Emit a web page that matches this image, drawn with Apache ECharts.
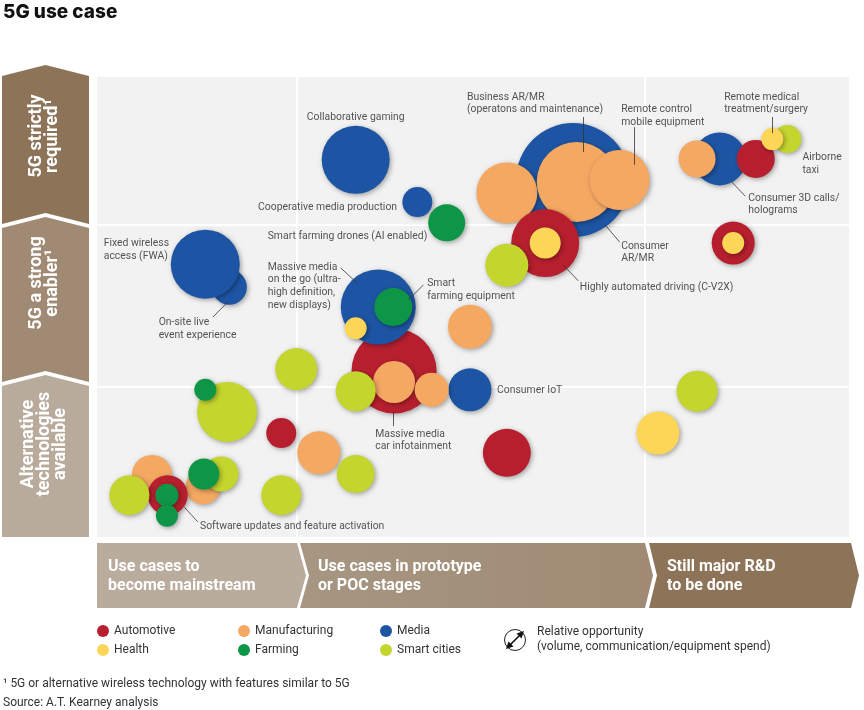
<!DOCTYPE html>
<html><head><meta charset="utf-8">
<script src="https://cdn.jsdelivr.net/npm/echarts@6/dist/echarts.min.js"></script>
<style>html,body{margin:0;padding:0;background:#fff}#c{width:864px;height:710px}</style>
</head><body><div id="c"></div>
<script>
// Axis: x = development stage (0-100), y = 5G dependency (0-100)
const xDividers = [26.6, 72.9];
const yDividers = [32.6, 67.8];
const rowLabels = ['5G strictly\nrequired¹', '5G a strong\nenabler¹', 'Alternative\ntechnologies\navailable'];
const stageLabels = ['Use cases to\nbecome mainstream', 'Use cases in prototype\nor POC stages', 'Still major R&D\nto be done'];
const categories = ['Automotive', 'Manufacturing', 'Media', 'Health', 'Farming', 'Smart cities'];
const catColors = ['#B71F2E', '#F5A862', '#1D55A4', '#FDD657', '#0E9647', '#C4D62E'];

// [stage, dependency, relative opportunity]
const automotiveBack = [[39.5, 36.1, 85]];
const media = [[63.3, 77.6, 114], [34.4, 82.0, 68], [42.6, 72.8, 30], [17.6, 54.3, 35], [14.4, 59.3, 69], [37.4, 50.0, 75], [82.8, 82.2, 53], [49.6, 32.0, 43]];
const manufacturing = [[54.5, 74.8, 61], [63.8, 77.2, 80], [69.5, 77.6, 60], [79.8, 82.2, 37], [49.6, 45.7, 44], [39.5, 33.7, 42], [44.5, 32.0, 34], [29.5, 18.3, 43], [7.3, 13.5, 40], [14.1, 10.9, 35]];
const automotive = [[59.6, 63.9, 68], [87.6, 82.2, 38], [84.6, 63.9, 43], [24.5, 22.6, 30], [54.5, 18.3, 48], [9.4, 9.1, 40]];
const smartCities = [[54.5, 59.1, 43], [91.8, 86.5, 28], [34.4, 31.7, 40], [26.5, 36.5, 42], [17.3, 27.2, 60], [34.4, 13.7, 38], [24.5, 9.1, 40], [4.3, 9.1, 40], [16.5, 13.7, 35], [79.8, 31.7, 41]];
const farming = [[46.5, 68.3, 37], [39.4, 50.0, 38], [14.4, 32.0, 22], [14.2, 13.7, 31], [9.3, 9.1, 23], [9.3, 4.6, 22]];
const health = [[34.4, 45.4, 22], [59.6, 63.9, 31], [89.8, 86.5, 22], [84.6, 63.9, 22], [74.6, 22.6, 43]];

// annotation texts: [text, x, y, align]
const annotations = [
  ['Collaborative gaming', 27.9, 92.6, 'left'],
  ['Cooperative media production', 39.9, 73.0, 'right'],
  ['Smart farming drones (AI enabled)', 22.7, 66.7, 'left'],
  ['Fixed wireless\naccess (FWA)', 0.9, 65.2, 'left'],
  ['On-site live\nevent experience', 8.2, 48.0, 'left'],
  ['Massive media\non the go (ultra-\nhigh definition,\nnew displays)', 22.7, 60.0, 'left'],
  ['Smart\nfarming equipment', 43.9, 56.5, 'left'],
  ['Business AR/MR\n(operatons and maintenance)', 49.2, 97.0, 'left'],
  ['Remote control\nmobile equipment', 69.7, 94.3, 'left'],
  ['Remote medical\ntreatment/surgery', 83.4, 97.0, 'left'],
  ['Airborne\ntaxi', 93.8, 83.9, 'left'],
  ['Consumer 3D calls/\nholograms', 86.6, 75.0, 'left'],
  ['Consumer\nAR/MR', 69.7, 64.6, 'left'],
  ['Highly automated driving (C-V2X)', 64.2, 55.7, 'left'],
  ['Consumer IoT', 53.2, 33.3, 'left'],
  ['Massive media\ncar infotainment', 37.0, 23.7, 'left'],
  ['Software updates and feature activation', 13.7, 3.7, 'left']
];
const leaders = [
  [[15.4, 47.8], [17.4, 51.1]],
  [[32.4, 58.5], [34.6, 55.2]],
  [[43.4, 54.8], [41.4, 51.5]],
  [[64.6, 91.3], [64.6, 83.7]],
  [[71.5, 89.1], [71.5, 80.9]],
  [[89.8, 91.3], [89.8, 87.8]],
  [[86.2, 74.1], [84.4, 77.2]],
  [[69.5, 64.1], [67.6, 67.8]],
  [[64.0, 55.7], [62.0, 59.1]],
  [[39.4, 27.2], [39.4, 24.1]],
  [[13.4, 3.3], [11.6, 6.5]]
];

const FONT = 'Roboto, "Liberation Sans", sans-serif';
const colorOf = n => catColors[categories.indexOf(n)];

function bubbles(name, data) {
  return {
    type: 'scatter', name: name, data: data, z: 3,
    symbolSize: d => d[2],
    itemStyle: { color: colorOf(name), opacity: 1, shadowBlur: 5, shadowColor: 'rgba(0,0,0,0.35)', shadowOffsetX: 1.5, shadowOffsetY: 1.5 },
    emphasis: { disabled: true }, silent: true
  };
}

const dividerData = xDividers.map(v => ({ coords: [[v, 0], [v, 100]] }))
  .concat(yDividers.map(v => ({ coords: [[0, v], [100, v]] })));

const series = [
  { type: 'lines', coordinateSystem: 'cartesian2d', z: 1, silent: true, data: dividerData,
    lineStyle: { color: '#ffffff', width: 2, opacity: 1 } },
  bubbles('Automotive', automotiveBack),
  bubbles('Media', media),
  bubbles('Manufacturing', manufacturing),
  bubbles('Automotive', automotive),
  bubbles('Smart cities', smartCities),
  bubbles('Farming', farming),
  bubbles('Health', health),
  { type: 'lines', coordinateSystem: 'cartesian2d', z: 10, silent: true,
    data: leaders.map(c => ({ coords: c })), lineStyle: { color: '#333', width: 0.8, opacity: 1 } },
  { type: 'scatter', z: 11, silent: true, symbolSize: 0,
    data: annotations.map(a => ({ value: [a[1], a[2]], label: { formatter: a[0], align: a[3] } })),
    label: { show: true, position: [0, 0], verticalAlign: 'top', color: '#2b2b2b', fontSize: 10.4, lineHeight: 12.6, fontFamily: FONT } }
];

// legends: 2 rows x 3 columns
const legendCols = [97, 238, 380];
const legendRows = [625, 644];
const legendOrder = ['Automotive', 'Manufacturing', 'Media', 'Health', 'Farming', 'Smart cities'];
const legends = legendOrder.map((n, i) => ({
  data: [n], left: legendCols[i % 3], top: legendRows[Math.floor(i / 3)],
  icon: 'circle', itemWidth: 12, itemHeight: 12, itemGap: 0, padding: 0, selectedMode: false,
  textStyle: { fontSize: 12, color: '#333', fontFamily: FONT, padding: [0, 0, 0, 0] },
  itemStyle: { color: colorOf(n) }
}));

const graphics = [];
// left row arrows
const rowShapes = [
  [[2, 76], [45.5, 65], [89, 76], [89, 224], [45.5, 213], [2, 224]],
  [[2, 228], [45.5, 217], [89, 228], [89, 382], [45.5, 371], [2, 382]],
  [[2, 386], [45.5, 375], [89, 386], [89, 537], [2, 537]]
];
const rowColors = ['#8D7459', '#A08A73', '#B9AB9B'];
const rowTextY = [136, 283, 444];
rowShapes.forEach((pts, i) => {
  graphics.push({ type: 'text', x: 44, y: rowTextY[i], rotation: Math.PI / 2, silent: true, z: 2,
    style: { text: rowLabels[i], fill: '#fff', font: 'bold 18px ' + FONT, align: 'center', verticalAlign: 'middle', lineHeight: 16 } });
  graphics.push({ type: 'polygon', shape: { points: pts }, style: { fill: rowColors[i] }, silent: true, z: 1 });
});
// bottom stage chevrons
const stageShapes = [
  [[97, 543], [297, 543], [306, 575.5], [297, 608], [97, 608]],
  [[300, 543], [645, 543], [653, 575.5], [645, 608], [300, 608], [309, 575.5]],
  [[649, 543], [851, 543], [859, 575.5], [851, 608], [649, 608], [657, 575.5]]
];
const stageColors = ['#BAAC9C', { type: 'linear', x: 0, y: 0, x2: 1, y2: 0, colorStops: [{ offset: 0, color: '#A69682' }, { offset: 1, color: '#A08A73' }] }, '#8D7459'];
const stageTextX = [108, 318, 667];
stageShapes.forEach((pts, i) => {
  graphics.push({ type: 'polygon', shape: { points: pts }, style: { fill: stageColors[i] }, silent: true, z: 1 });
  graphics.push({ type: 'text', x: stageTextX[i], y: 576, silent: true, z: 2,
    style: { text: stageLabels[i], fill: '#fff', font: 'bold 16px ' + FONT, verticalAlign: 'middle', lineHeight: 19 } });
});
// relative opportunity icon
graphics.push({ type: 'circle', shape: { cx: 515, cy: 640, r: 10.5 }, style: { fill: 'none', stroke: '#222', lineWidth: 1 }, silent: true });
graphics.push({ type: 'line', shape: { x1: 509, y1: 646, x2: 521, y2: 634 }, style: { stroke: '#111', lineWidth: 1.6 }, silent: true });
graphics.push({ type: 'polygon', shape: { points: [[524, 631], [516.5, 633.5], [521.5, 638.5]] }, style: { fill: '#111' }, silent: true });
graphics.push({ type: 'polygon', shape: { points: [[506, 649], [513.5, 646.5], [508.5, 641.5]] }, style: { fill: '#111' }, silent: true });
graphics.push({ type: 'text', x: 537, y: 639, silent: true,
  style: { text: 'Relative opportunity\n(volume, communication/equipment spend)', fill: '#333', font: '12px ' + FONT, verticalAlign: 'middle', lineHeight: 15 } });
// footnotes
graphics.push({ type: 'text', x: 3, y: 684, silent: true, style: { text: '¹ 5G or alternative wireless technology with features similar to 5G', fill: '#333', font: '12px ' + FONT, verticalAlign: 'middle' } });
graphics.push({ type: 'text', x: 3, y: 703, silent: true, style: { text: 'Source: A.T. Kearney analysis', fill: '#333', font: '12px ' + FONT, verticalAlign: 'middle' } });

const chart = echarts.init(document.getElementById('c'), null, { renderer: 'canvas' });
chart.setOption({
  animation: false,
  backgroundColor: '#ffffff',
  title: { text: '5G use case', left: 3, top: 3, padding: 0, textStyle: { fontSize: 19, fontWeight: 800, color: '#111', fontFamily: 'Inter, ' + FONT } },
  grid: { left: 97, top: 77, width: 752, height: 460, show: true, backgroundColor: '#F2F2F2', borderWidth: 0 },
  xAxis: { type: 'value', min: 0, max: 100, show: false },
  yAxis: { type: 'value', min: 0, max: 100, show: false },
  legend: legends,
  series: series,
  graphic: graphics
});
</script></body></html>
